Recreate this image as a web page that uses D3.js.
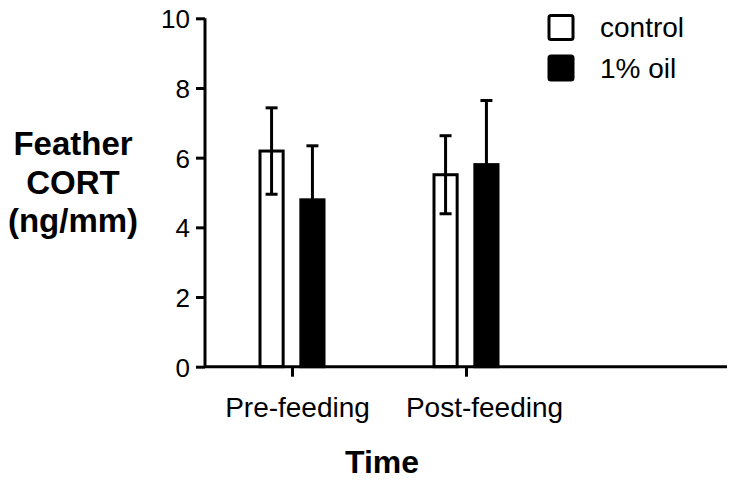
<!DOCTYPE html>
<html><head><meta charset="utf-8">
<script src="https://cdn.jsdelivr.net/npm/d3@7"></script>
<style>
body{margin:0;background:#fff;}
svg text{font-family:Arial,"Liberation Sans",Helvetica,sans-serif;fill:#000;}
</style></head>
<body><svg id="chart" width="734" height="481"></svg>
<script>
const categories = ["Pre-feeding", "Post-feeding"];
const series = ["control", "1% oil"];
const means = { "control": [6.19, 5.51], "1% oil": [4.79, 5.80] };
const sem   = { "control": [1.24, 1.12], "1% oil": [1.55, 1.84] };
const yTicks = [0, 2, 4, 6, 8, 10];
const yLabelLines = ["Feather", "CORT", "(ng/mm)"];
const xTitle = "Time";
const fills = { "control": "#fff", "1% oil": "#000" };

const svg = d3.select("#chart");
const x0 = 205, x1 = 727, yBase = 366.7, yTop = 18.3;
const x = d3.scaleLinear().domain([0, 3]).range([x0, x1]);
const y = d3.scaleLinear().domain([0, 10]).range([yBase, yTop]);
const inner = d3.scaleBand().domain(series).range([-33.5, 33.5]).paddingInner(0.36);
const sw = 3;

const rows = [];
categories.forEach((c, i) => series.forEach(s => rows.push({c, i, s, v: means[s][i], e: sem[s][i]})));

// bars
svg.append("g").selectAll("rect").data(rows).join("rect")
  .attr("x", d => x(d.i + 0.5) + inner(d.s) + sw / 2)
  .attr("width", inner.bandwidth() - sw)
  .attr("y", d => y(d.v))
  .attr("height", d => y(0) - y(d.v))
  .attr("fill", d => fills[d.s])
  .attr("stroke", "#000").attr("stroke-width", sw);

// error bars
const eg = svg.append("g").attr("stroke", "#000").attr("stroke-width", sw).attr("fill", "none");
rows.forEach(d => {
  const cx = x(d.i + 0.5) + inner(d.s) + inner.bandwidth() / 2;
  eg.append("line").attr("x1", cx).attr("x2", cx).attr("y1", y(d.v - d.e)).attr("y2", y(d.v + d.e));
  [d.v - d.e, d.v + d.e].forEach(val => {
    eg.append("line").attr("x1", cx - 6).attr("x2", cx + 6).attr("y1", y(val)).attr("y2", y(val));
  });
});

// y axis
const yAxis = svg.append("g").attr("transform", `translate(${x0},0)`)
  .call(d3.axisLeft(y).tickValues(yTicks).tickSize(9).tickPadding(6).tickFormat(d3.format("d")));
yAxis.select(".domain").attr("stroke-width", sw).attr("d", `M0,${yTop}V${yBase}`);
yAxis.selectAll(".tick line").attr("stroke-width", sw);
yAxis.selectAll(".tick text").attr("font-size", 26).attr("dy", "0.36em")
  .style("font-family", "Arial, 'Liberation Sans', sans-serif");

// x axis
const xAxis = svg.append("g").attr("transform", `translate(0,${yBase})`)
  .call(d3.axisBottom(x).tickValues(categories.map((c, i) => i + 0.5)).tickSize(10).tickPadding(20)
    .tickFormat((d, i) => categories[i]));
xAxis.select(".domain").attr("stroke-width", sw).attr("d", `M${x0},0H${x1}`);
xAxis.selectAll(".tick line").attr("stroke-width", sw);
const nudge = [5, 18];
xAxis.selectAll(".tick text").attr("font-size", 28).attr("dx", (d, i) => nudge[i])
  .style("font-family", "Arial, 'Liberation Sans', sans-serif");

// y title
const yt = svg.append("text").attr("text-anchor", "middle").attr("font-size", 33).attr("font-weight", "bold");
yLabelLines.forEach((t, i) => yt.append("tspan").attr("x", 73).attr("y", 155 + i * 38.5).text(t));

// x title
svg.append("text").attr("x", 382).attr("y", 473).attr("text-anchor", "middle")
  .attr("font-size", 32).attr("font-weight", "bold").text(xTitle);

// legend
const lg = svg.append("g");
series.forEach((s, i) => {
  const yy = 15.5 + i * 40.5;
  lg.append("rect").attr("x", 549).attr("y", yy).attr("width", 24).attr("height", 24).attr("rx", 2)
    .attr("fill", fills[s]).attr("stroke", "#000").attr("stroke-width", sw);
  lg.append("text").attr("x", 600).attr("y", yy + 21.5).attr("font-size", 28).text(s);
});
</script></body></html>
